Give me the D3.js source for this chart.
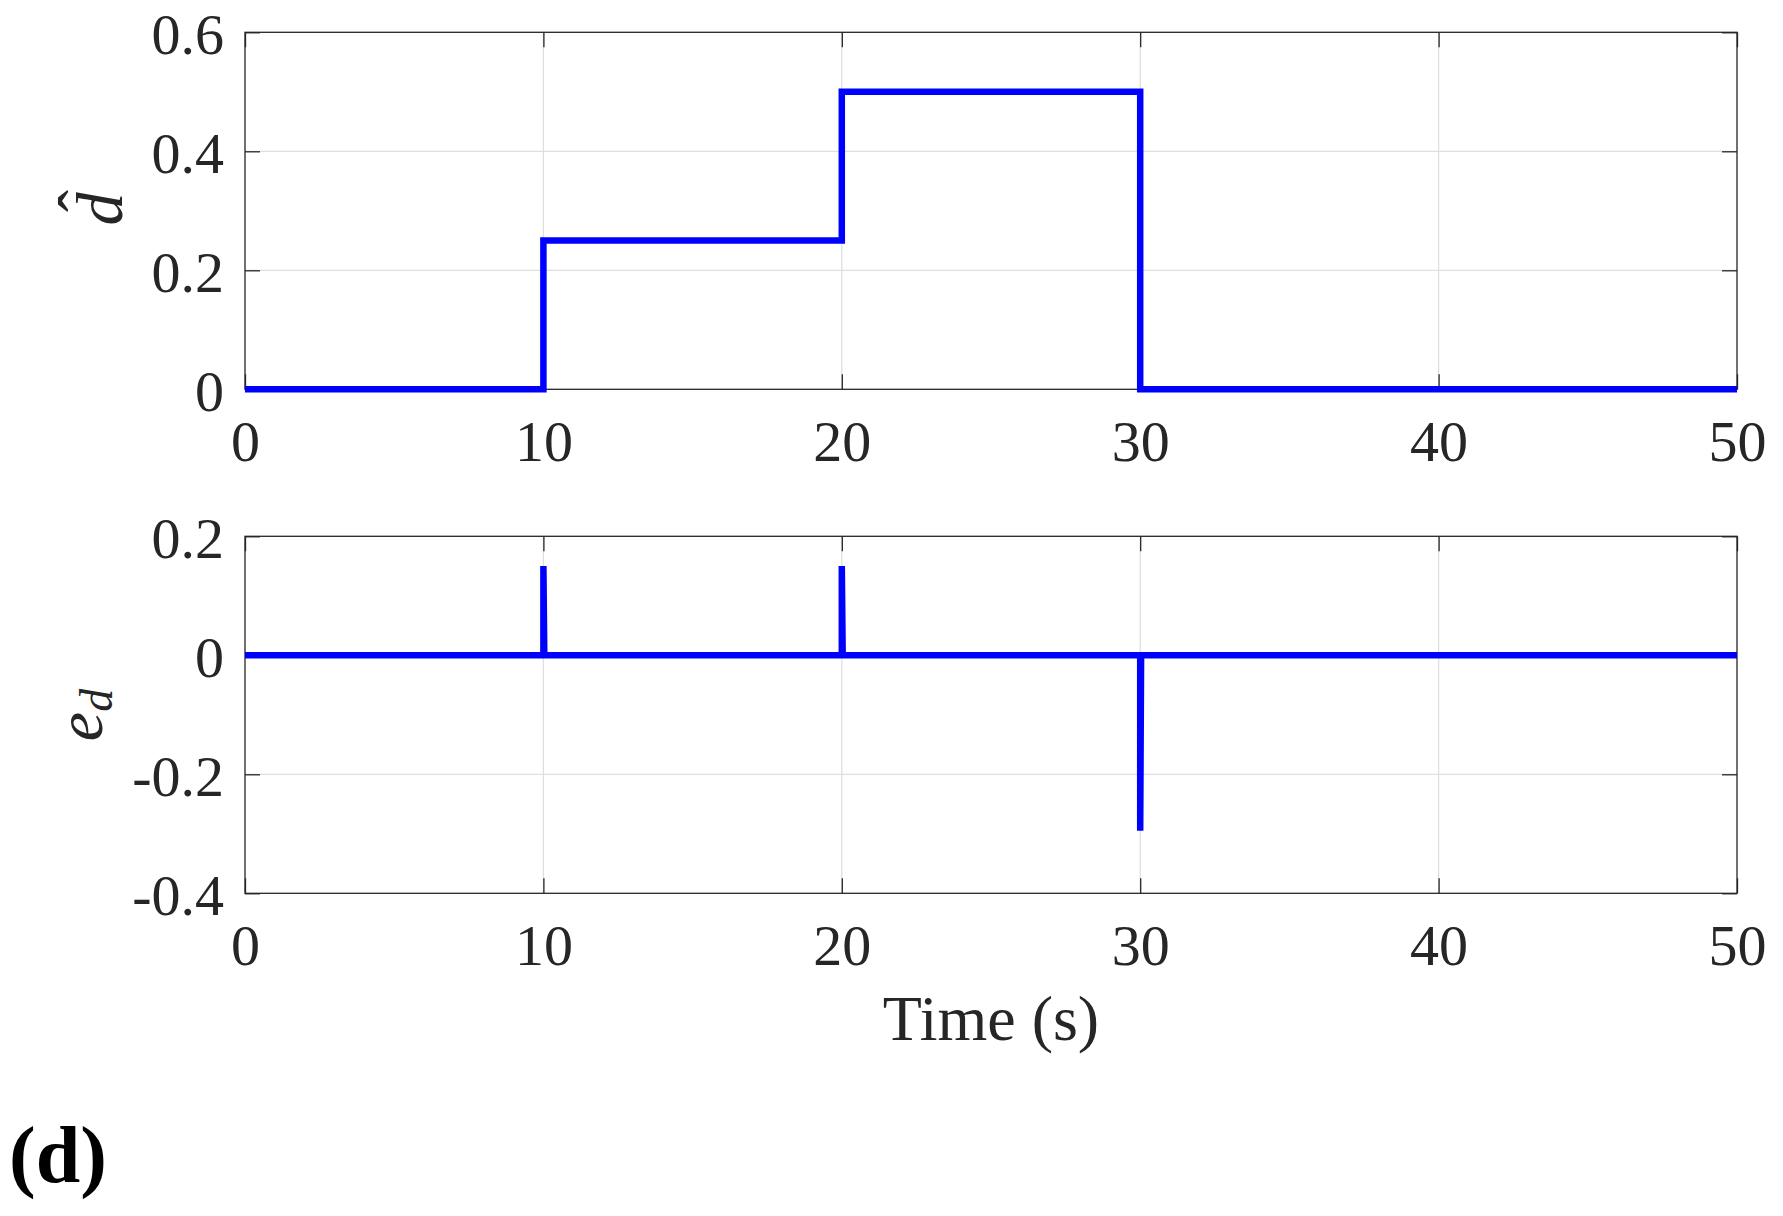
<!DOCTYPE html>
<html>
<head>
<meta charset="utf-8">
<script src="https://cdn.jsdelivr.net/npm/d3@7"></script>
<style>
  body { margin: 0; background: #fff; }
  svg { display: block; }
</style>
</head>
<body>
<script>
// Tick values and labels
var timeTicks = [0, 10, 20, 30, 40, 50];
var timeLabels = ["0", "10", "20", "30", "40", "50"];

var dHatTicks = [0, 0.2, 0.4, 0.6];
var dHatLabels = ["0", "0.2", "0.4", "0.6"];

var errTicks = [-0.4, -0.2, 0, 0.2];
var errLabels = ["-0.4", "-0.2", "0", "0.2"];

// Estimated disturbance: steps at 10, 20 and 30 s
var dHatTime = [0, 10, 10, 20, 20, 30, 30, 50];
var dHatValue = [0, 0, 0.25, 0.25, 0.5, 0.5, 0, 0];

// Estimation error: short spikes at the same instants
var errTime = [0, 10, 10, 10.03, 20, 20, 20.03, 30, 30, 30.03, 50];
var errValue = [0, 0, 0.15, 0, 0, 0.15, 0, 0, -0.295, 0, 0];

// Page size and plot box
var width = 1783;
var height = 1216;
var left = 245;
var right = 1737;
var tickLen = 15;
var fontFam = "'Liberation Serif', 'Times New Roman', Times, serif";
var ink = "#262626";

var svg = d3.select("body")
	.append("svg")
	.attr("width", width)
	.attr("height", height);

var x = d3.scaleLinear().domain([0, 50]).range([left, right]);

function drawPanel(top, bottom, yDomain, yTicks, yLabels, times, values) {

	var y = d3.scaleLinear().domain(yDomain).range([bottom, top]);
	var g = svg.append("g");

	// Light grid behind everything
	g.selectAll("line.gx")
		.data(timeTicks.slice(1, -1))
		.enter()
		.append("line")
		.attr("x1", (d) => x(d)).attr("x2", (d) => x(d))
		.attr("y1", top).attr("y2", bottom)
		.attr("stroke", "#dfdfdf")
		.attr("stroke-width", 1.3);

	g.selectAll("line.gy")
		.data(yTicks.slice(1, -1))
		.enter()
		.append("line")
		.attr("x1", left).attr("x2", right)
		.attr("y1", (d) => y(d)).attr("y2", (d) => y(d))
		.attr("stroke", "#dfdfdf")
		.attr("stroke-width", 1.3);

	// Ticks point inwards on all four sides
	var bottomAxis = g.append("g")
		.attr("transform", "translate(0," + bottom + ")")
		.call(d3.axisBottom(x).tickValues(timeTicks).tickSize(-tickLen)
			.tickFormat((d, i) => timeLabels[i]));

	bottomAxis.selectAll("text")
		.attr("y", 72)
		.attr("dy", 0);

	var leftAxis = g.append("g")
		.attr("transform", "translate(" + left + ",0)")
		.call(d3.axisLeft(y).tickValues(yTicks).tickSize(-tickLen)
			.tickFormat((d, i) => yLabels[i]));

	leftAxis.selectAll("text")
		.attr("x", -21)
		.attr("y", 21)
		.attr("dy", 0);

	g.append("g")
		.attr("transform", "translate(0," + top + ")")
		.call(d3.axisTop(x).tickValues(timeTicks).tickSize(-tickLen).tickFormat(""));

	g.append("g")
		.attr("transform", "translate(" + right + ",0)")
		.call(d3.axisRight(y).tickValues(yTicks).tickSize(-tickLen).tickFormat(""));

	g.selectAll(".domain").remove();
	g.selectAll(".tick line").attr("stroke", ink).attr("stroke-width", 1.3);
	g.selectAll(".tick text")
		.attr("font-family", fontFam)
		.attr("font-size", "58px")
		.attr("fill", ink);

	// Plot box
	g.append("rect")
		.attr("x", left)
		.attr("y", top)
		.attr("width", right - left)
		.attr("height", bottom - top)
		.attr("fill", "none")
		.attr("stroke", ink)
		.attr("stroke-width", 1.3);

	// The blue signal
	var line = d3.line()
		.x((i) => x(times[i]))
		.y((i) => y(values[i]));

	g.append("path")
		.attr("d", line(d3.range(times.length)))
		.attr("fill", "none")
		.attr("stroke", "#0000ff")
		.attr("stroke-width", 6.5)
		.attr("stroke-linejoin", "miter");
}

drawPanel(32.3, 389.3, [0, 0.6], dHatTicks, dHatLabels, dHatTime, dHatValue);
drawPanel(536.3, 893.3, [-0.4, 0.2], errTicks, errLabels, errTime, errValue);

// y label of top panel: d with a hat
var lab1 = svg.append("g")
	.attr("transform", "translate(122,209) rotate(-90)")
	.attr("font-family", fontFam)
	.attr("fill", ink);

lab1.append("text")
	.attr("text-anchor", "middle")
	.attr("font-size", "66px")
	.attr("font-style", "italic")
	.text("d");

lab1.append("text")
	.attr("x", 8)
	.attr("y", -18)
	.attr("text-anchor", "middle")
	.attr("font-size", "66px")
	.text("\u02C6");

// y label of bottom panel: e with subscript d
var lab2 = svg.append("text")
	.attr("transform", "translate(102,715) rotate(-90)")
	.attr("text-anchor", "middle")
	.attr("font-family", fontFam)
	.attr("font-style", "italic")
	.attr("fill", ink);

lab2.append("tspan")
	.attr("font-size", "66px")
	.text("e");

lab2.append("tspan")
	.attr("font-size", "46px")
	.attr("dy", 10)
	.text("d");

// Shared x label
svg.append("text")
	.attr("x", (left + right) / 2)
	.attr("y", 1040)
	.attr("text-anchor", "middle")
	.attr("font-family", fontFam)
	.attr("font-size", "64px")
	.attr("fill", ink)
	.text("Time (s)");

// Panel tag
svg.append("text")
	.attr("x", 9)
	.attr("y", 1182)
	.attr("font-family", fontFam)
	.attr("font-size", "80px")
	.attr("font-weight", "bold")
	.attr("fill", "#000")
	.text("(d)");
</script>
</body>
</html>
